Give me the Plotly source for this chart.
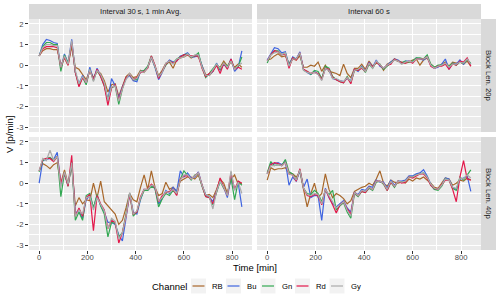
import plotly.graph_objects as go
from plotly.subplots import make_subplots

# ---------------- data ----------------
time_min = [0, 15, 30, 45, 60, 75, 90, 105, 120, 135,
            150, 165, 180, 195, 210, 225, 240, 255, 270, 285,
            300, 315, 330, 345, 360, 375, 390, 405, 420, 435,
            450, 465, 480, 495, 510, 525, 540, 555, 570, 585,
            600, 615, 630, 645, 660, 675, 690, 705, 720, 735,
            750, 765, 780, 795, 810, 825, 840]

channels = ["RB", "Bu", "Gn", "Rd", "Gy"]
interval_labels = ["Interval 30\u2009s, 1 min Avg.", "Interval 60 s"]
block_labels = ["Block Len. 20p", "Block Len. 40p"]
x_tick_vals = [0, 200, 400, 600, 800]
x_tick_text = ["0", "200", "400", "600", "800"]
y_tick_vals = [-3, -2, -1, 0, 1, 2]
y_tick_text = ["-3", "-2", "-1", "0", "1", "2"]

# Interval 30 s / Block 20p
tl_rb = [0.45, 0.7, 0.8, 0.8, 0.75, 0.75, 0.0, 0.35, 0.0, 0.9,
         -0.1, -0.2, -0.45, -0.7, -0.25, -0.6, -0.3, -0.4, -0.75, -1.3,
         -0.95, -0.9, -1.5, -1.0, -0.55, -0.4, -0.6, -0.55, -0.25, -0.35,
         -0.1, 0.35, -0.1, -0.5, -0.25, 0.1, 0.15, -0.15, 0.25, 0.35,
         0.4, 0.5, 0.35, 0.45, 0.4, -0.05, -0.45, -0.5, -0.3, 0.0,
         -0.1, 0.2, -0.05, 0.15, -0.1, 0.05, -0.1]
tl_bu = [0.45, 1.0, 1.25, 1.2, 1.1, 1.05, -0.15, 0.55, 0.1, 1.25,
         -0.35, -0.9, -0.5, -0.9, -0.1, -0.7, -0.15, -0.5, -0.95, -1.7,
         -0.65, -1.0, -1.6, -1.05, -0.65, -0.5, -0.75, -0.8, -0.3, -0.3,
         -0.1, 0.4, -0.1, -0.7, -0.35, 0.05, 0.25, 0.15, 0.2, 0.45,
         0.5, 0.6, 0.4, 0.4, 0.5, -0.05, -0.55, -0.45, -0.3, 0.1,
         -0.25, 0.05, -0.15, 0.3, -0.3, -0.1, 0.7]
tl_gn = [0.45, 0.9, 1.1, 1.1, 1.0, 1.0, -0.3, 0.5, 0.1, 1.05,
         -0.35, -1.0, -0.6, -0.95, -0.2, -0.75, -0.25, -0.55, -1.0, -1.7,
         -1.1, -1.0, -1.9, -1.15, -0.6, -0.45, -0.7, -0.7, -0.3, -0.25,
         -0.05, 0.45, -0.05, -0.6, -0.3, 0.0, 0.2, 0.1, 0.3, 0.4,
         0.5, 0.55, 0.4, 0.45, 0.6, -0.1, -0.6, -0.4, -0.2, 0.05,
         -0.2, 0.1, -0.05, 0.25, -0.15, -0.05, 0.4]
tl_rd = [0.45, 0.8, 0.9, 0.9, 0.9, 0.85, -0.1, 0.4, 0.0, 1.1,
         -0.35, -1.05, -0.6, -0.85, -0.25, -0.7, -0.2, -0.55, -1.0, -1.95,
         -1.1, -0.95, -1.7, -1.1, -0.6, -0.45, -0.7, -0.6, -0.35, -0.3,
         -0.15, 0.45, 0.0, -0.65, -0.3, 0.05, 0.2, 0.1, 0.2, 0.4,
         0.5, 0.5, 0.45, 0.45, 0.45, -0.15, -0.55, -0.4, -0.3, 0.0,
         -0.4, 0.1, -0.2, 0.3, -0.2, -0.1, -0.2]
tl_gy = [0.45, 0.85, 1.0, 1.0, 0.95, 0.95, -0.1, 0.45, 0.05, 1.2,
         -0.25, -0.9, -0.55, -0.85, -0.2, -0.8, -0.25, -0.45, -0.85, -1.7,
         -1.05, -1.0, -1.75, -1.15, -0.7, -0.4, -0.7, -0.65, -0.3, -0.35,
         -0.1, 0.4, -0.05, -0.55, -0.35, 0.1, 0.2, 0.05, 0.3, 0.35,
         0.4, 0.55, 0.4, 0.5, 0.5, -0.1, -0.5, -0.5, -0.25, 0.05,
         -0.15, 0.1, -0.1, 0.2, -0.2, 0.0, 0.1]

# Interval 60 s / Block 20p
tr_rb = [0.25, 0.3, 0.45, 0.55, 0.4, 0.45, 0.1, 0.3, 0.25, 0.45,
         -0.1, -0.1, 0.0, -0.05, 0.15, -0.3, 0.0, -0.3, -0.35, -0.4,
         -0.5, 0.05, -0.4, -0.6, -0.15, -0.15, 0.05, -0.2, 0.2, -0.05,
         0.1, 0.05, -0.25, 0.05, 0.15, 0.25, 0.2, 0.15, 0.1, 0.15,
         0.25, 0.3, 0.0, 0.25, 0.35, 0.05, -0.1, -0.05, 0.05, 0.15,
         -0.05, 0.15, 0.1, 0.15, 0.05, 0.2, -0.05]
tr_bu = [0.25, 0.55, 0.85, 0.8, 0.6, 0.65, 0.0, 0.4, 0.3, 0.65,
         -0.2, -0.35, -0.45, -0.3, -0.45, -0.65, -0.15, -0.25, -0.65, -0.7,
         -0.75, -0.8, -0.65, -0.75, -0.2, -0.3, -0.05, -0.3, 0.15, -0.1,
         0.25, -0.05, -0.15, 0.0, 0.15, 0.3, 0.25, 0.1, 0.2, 0.2,
         0.15, 0.35, 0.3, 0.25, 0.4, 0.0, -0.15, -0.1, 0.05, 0.3,
         -0.2, 0.1, 0.05, 0.25, 0.05, 0.3, 0.05]
tr_gn = [0.1, 0.5, 0.7, 0.7, 0.5, 0.6, -0.05, 0.35, 0.3, 0.55,
         -0.25, -0.3, -0.45, -0.25, -0.3, -0.65, -0.05, -0.15, -0.55, -0.7,
         -0.8, -0.85, -0.55, -0.85, -0.25, -0.25, -0.1, -0.35, 0.05, -0.15,
         0.15, 0.05, -0.2, -0.05, 0.1, 0.3, 0.2, 0.1, 0.2, 0.15,
         0.2, 0.35, 0.35, 0.3, 0.5, 0.05, -0.1, 0.0, 0.0, 0.05,
         -0.05, 0.1, 0.0, 0.15, 0.1, 0.25, 0.1]
tr_rd = [0.2, 0.5, 0.7, 0.65, 0.5, 0.55, -0.15, 0.35, 0.25, 0.6,
         -0.2, -0.3, -0.4, -0.35, -0.4, -0.7, -0.15, -0.2, -0.6, -0.7,
         -0.8, -0.85, -0.6, -0.9, -0.2, -0.25, -0.15, -0.3, 0.1, -0.1,
         0.15, 0.0, -0.15, 0.0, 0.05, 0.3, 0.2, 0.1, 0.1, 0.2,
         0.1, 0.3, 0.3, 0.3, 0.4, -0.05, -0.15, -0.05, -0.05, 0.05,
         -0.2, 0.05, 0.0, 0.2, 0.15, 0.35, -0.05]
tr_gy = [0.2, 0.5, 0.6, 0.65, 0.5, 0.6, -0.05, 0.3, 0.3, 0.6,
         -0.25, -0.35, -0.4, -0.35, -0.45, -0.75, -0.15, -0.25, -0.65, -0.65,
         -0.75, -0.8, -0.6, -0.8, -0.25, -0.2, -0.1, -0.3, 0.1, -0.15,
         0.2, 0.0, -0.15, 0.0, 0.1, 0.25, 0.2, 0.05, 0.15, 0.2,
         0.15, 0.3, 0.3, 0.3, 0.4, 0.0, -0.15, -0.05, 0.0, 0.1,
         -0.1, 0.05, 0.05, 0.15, 0.1, 0.3, 0.05]

# Interval 30 s / Block 40p
bl_rb = [0.6, 0.95, 0.85, 0.7, 0.9, 1.0, 0.0, 0.65, -0.05, 0.8,
         -1.1, -0.7, -1.0, -0.8, -0.85, 0.0, -0.7, 0.1, -0.9, -1.1,
         -1.3, -1.5, -2.0, -1.8, -1.2, -0.5, -0.8, -0.9, -0.2, 0.4,
         -0.3, 0.6, -0.2, -0.6, -0.5, 0.05, -0.3, -0.2, -0.4, 0.1,
         0.2, 0.3, 0.3, 0.2, 0.4, -0.1, -0.6, -0.55, -0.7, -0.3,
         0.2, 0.0, -0.5, 0.2, 0.4, -0.05, 0.0]
bl_bu = [0.0, 1.1, 1.15, 1.2, 1.15, 1.5, -0.1, 0.45, -0.1, 1.0,
         -1.4, -1.4, -1.7, -0.8, -0.6, -1.2, -0.6, -1.1, -1.4, -1.9,
         -1.9, -2.0, -2.5, -2.8, -1.7, -0.5, -1.4, -1.5, -0.8, -0.3,
         -0.35, -0.1, -0.25, -1.0, -0.75, -0.35, -0.5, -0.2, -0.4, 0.6,
         0.3, 0.5, 0.25, 0.3, 0.55, -0.1, -0.55, -0.65, -0.9, -0.35,
         0.1, -0.2, -0.7, 0.3, -0.3, 0.0, -1.15]
bl_gn = [0.55, 1.1, 1.2, 1.25, 1.1, 1.3, -0.65, 0.5, -0.15, 1.05,
         -1.8, -1.4, -1.8, -0.6, -0.5, -1.2, -0.55, -1.1, -1.5, -2.6,
         -1.9, -1.95, -2.6, -2.4, -1.5, -0.5, -1.6, -1.4, -0.75, -0.35,
         -0.35, -0.15, -0.25, -1.15, -0.75, -0.5, -0.6, -0.35, -0.55, 0.2,
         0.6, 0.35, 0.15, 0.4, 0.45, -0.15, -0.65, -0.7, -1.05, -0.45,
         0.1, -0.25, -0.5, 0.25, -0.8, 0.1, -0.1]
bl_rd = [0.6, 1.15, 1.2, 1.2, 1.05, 1.3, 0.0, 0.5, -0.15, 1.35,
         -1.6, -1.2, -1.6, -0.7, -0.55, -2.3, -0.6, -1.0, -1.3, -2.2,
         -1.8, -1.9, -2.9, -2.4, -1.6, -0.55, -1.5, -1.4, -0.65, -0.3,
         -0.3, -0.05, -0.2, -0.9, -0.6, -0.45, -0.4, -0.3, -0.6, 0.2,
         0.35, 0.35, 0.2, 0.35, 0.5, -0.1, -0.65, -0.7, -1.0, -0.4,
         0.25, -0.2, -0.6, 0.5, -0.3, 0.1, 0.0]
bl_gy = [0.6, 1.2, 1.1, 1.6, 1.1, 1.3, -0.2, 0.55, -0.05, 1.0,
         -1.6, -1.3, -1.5, -0.7, -0.65, -1.3, -0.7, -1.0, -1.35, -2.2,
         -1.7, -1.85, -2.7, -2.4, -1.6, -0.45, -1.5, -1.35, -0.7, -0.3,
         -0.3, -0.1, -0.15, -0.85, -0.7, -0.4, -0.45, -0.3, -0.5, 0.15,
         0.4, 0.4, 0.2, 0.35, 0.5, -0.1, -0.55, -0.65, -1.25, -0.4,
         0.1, -0.2, -0.6, 0.6, -0.35, 0.05, -0.5]

# Interval 60 s / Block 40p
br_rb = [0.15, 0.75, 0.65, 0.7, 0.7, 0.75, 0.5, 0.45, 0.3, 0.55,
         -0.3, -1.15, -0.5, 0.0, -0.7, -0.5, 0.45, -0.3, -0.7, -0.5,
         -0.6, -0.75, -1.0, -0.85, -0.4, -0.3, -0.2, -0.15, 0.0, -0.1,
         0.2, 0.6, 0.0, -0.15, 0.15, 0.05, 0.0, 0.05, 0.0, 0.2,
         0.1, 0.25, 0.2, 0.3, 0.15, 0.0, -0.2, -0.25, 0.0, 0.25,
         0.2, -0.1, 0.0, 0.15, 0.1, 0.25, 0.15]
br_bu = [0.45, 0.95, 0.95, 1.0, 0.9, 1.05, -0.1, 0.3, 0.1, 0.6,
         -0.2, 0.2, -0.7, -0.6, -0.6, -1.8, -0.25, -0.7, -1.0, -1.15,
         -1.0, -0.85, -1.2, -1.4, -0.45, -0.55, -0.3, -0.35, -0.15, -0.2,
         0.15, 0.05, 0.05, -0.25, 0.15, -0.1, 0.1, 0.1, 0.15, 0.35,
         0.35, 0.45, 0.5, 0.65, 0.35, -0.05, -0.3, -0.3, -0.1, 0.25,
         0.2, -0.2, -0.3, 0.2, 0.25, 0.35, -0.4]
br_gn = [0.5, 1.05, 0.85, 0.9, 0.85, 1.15, 0.55, 0.45, 0.15, 0.65,
         -0.25, -0.5, -0.55, -0.35, -0.5, -0.9, -0.35, -0.55, -0.35, -1.3,
         -1.1, -0.95, -1.4, -1.7, -0.5, -0.65, -0.4, -0.45, -0.25, -0.35,
         0.05, 0.1, -0.05, -0.35, 0.05, -0.2, 0.1, 0.05, 0.1, 0.3,
         0.3, 0.4, 0.45, 0.5, 0.3, -0.1, -0.3, -0.35, -0.15, 0.2,
         0.15, -0.25, -0.35, 0.3, 0.15, 0.4, 0.65]
br_rd = [0.45, 0.9, 1.0, 0.95, 0.85, 1.0, 0.45, 0.4, 0.1, 0.7,
         -0.25, -0.6, -0.65, -0.55, -0.6, -1.05, -0.3, -0.65, -1.05, -1.45,
         -1.05, -0.9, -1.25, -1.5, -0.45, -0.6, -0.4, -0.45, -0.2, -0.3,
         0.1, 0.1, 0.0, -0.35, 0.05, -0.15, 0.1, 0.0, 0.05, 0.3,
         0.25, 0.35, 0.45, 0.45, 0.25, -0.1, -0.25, -0.3, -0.1, 0.15,
         0.15, -0.3, -0.9, 0.3, 1.1, 0.2, 0.15]
br_gy = [0.45, 0.85, 0.85, 0.9, 0.85, 1.0, 0.45, 0.4, 0.15, 0.65,
         -0.25, -0.55, -0.6, -0.5, -0.55, -1.0, -0.3, -0.6, -0.95, -1.2,
         -1.05, -0.9, -1.3, -1.6, -0.45, -0.6, -0.35, -0.4, -0.2, -0.3,
         0.1, 0.1, 0.0, -0.3, 0.1, -0.15, 0.1, 0.05, 0.1, 0.3,
         0.3, 0.4, 0.45, 0.5, 0.3, -0.05, -0.25, -0.3, -0.1, 0.2,
         0.15, -0.2, -0.25, 0.25, 0.2, 0.4, 0.25]

panels = {
    (1, 1): [tl_rb, tl_bu, tl_gn, tl_rd, tl_gy],
    (1, 2): [tr_rb, tr_bu, tr_gn, tr_rd, tr_gy],
    (2, 1): [bl_rb, bl_bu, bl_gn, bl_rd, bl_gy],
    (2, 2): [br_rb, br_bu, br_gn, br_rd, br_gy],
}

# ---------------- style ----------------
colors = {"RB": "#A8672A", "Bu": "#3F64E0", "Gn": "#32A852", "Rd": "#E3174A", "Gy": "#AAAAAA"}
W, H = 500, 307
FONT = "Liberation Sans, Arial, sans-serif"
col_px = {1: (29, 252), 2: (257, 481)}
row_px = {1: (19, 132), 2: (137, 250)}


def px_x(v):
    return v / W


def px_y(v):
    return 1 - v / H


fig = make_subplots(rows=2, cols=2, shared_xaxes=True, shared_yaxes=True,
                    horizontal_spacing=0.01, vertical_spacing=0.015)

for (r, c), series in panels.items():
    for name, ys in zip(channels, series):
        fig.add_trace(go.Scatter(x=time_min, y=ys, mode="lines", name=name,
                                 line=dict(color=colors[name], width=1.2),
                                 showlegend=False, hoverinfo="skip"), row=r, col=c)

for r in (1, 2):
    for c in (1, 2):
        x0, x1 = col_px[c]
        y0, y1 = row_px[r]
        fig.update_xaxes(domain=[px_x(x0), px_x(x1)], range=[-42, 882],
                         tickvals=x_tick_vals, ticktext=x_tick_text,
                         showgrid=True, gridcolor="white", gridwidth=1.1,
                         zeroline=False, showline=False,
                         minor=dict(tickvals=[100, 300, 500, 700], showgrid=True,
                                    gridcolor="white", gridwidth=0.55, ticks=""),
                         ticks="outside" if r == 2 else "", ticklen=3, tickwidth=1,
                         tickcolor="#333333", showticklabels=(r == 2),
                         ticklabelstandoff=-3,
                         tickfont=dict(family=FONT, size=7.7, color="#4D4D4D"),
                         row=r, col=c)
        fig.update_yaxes(domain=[px_y(y1), px_y(y0)], range=[-3.24, 2.24],
                         tickvals=y_tick_vals, ticktext=y_tick_text,
                         showgrid=True, gridcolor="white", gridwidth=1.1,
                         zeroline=False, showline=False,
                         minor=dict(tickvals=[-2.5, -1.5, -0.5, 0.5, 1.5], showgrid=True,
                                    gridcolor="white", gridwidth=0.55, ticks=""),
                         ticks="outside" if c == 1 else "", ticklen=3, tickwidth=1,
                         tickcolor="#333333", showticklabels=(c == 1),
                         tickfont=dict(family=FONT, size=7.7, color="#4D4D4D"),
                         row=r, col=c)

shapes = []
annotations = []
STRIP = "#D9D9D9"
# top strips
for c, lab in zip((1, 2), interval_labels):
    x0, x1 = col_px[c]
    shapes.append(dict(type="rect", xref="paper", yref="paper", x0=px_x(x0), x1=px_x(x1),
                       y0=px_y(19), y1=px_y(4), fillcolor=STRIP, line=dict(width=0)))
    annotations.append(dict(text=lab, xref="paper", yref="paper", x=px_x((x0 + x1) / 2),
                            y=px_y(11.5), showarrow=False, xanchor="center", yanchor="middle",
                            font=dict(family=FONT, size=7.7, color="#1A1A1A")))
# right strips
for r, lab in zip((1, 2), block_labels):
    y0, y1 = row_px[r]
    shapes.append(dict(type="rect", xref="paper", yref="paper", x0=px_x(481), x1=px_x(496),
                       y0=px_y(y1), y1=px_y(y0), fillcolor=STRIP, line=dict(width=0)))
    annotations.append(dict(text=lab, xref="paper", yref="paper", x=px_x(488.5),
                            y=px_y((y0 + y1) / 2), showarrow=False, textangle=90,
                            xanchor="center", yanchor="middle",
                            font=dict(family=FONT, size=7.7, color="#1A1A1A")))

# axis titles
annotations.append(dict(text="Time [min]", xref="paper", yref="paper", x=px_x(255), y=px_y(267),
                        showarrow=False, xanchor="center", yanchor="middle",
                        font=dict(family=FONT, size=9.5, color="black")))
annotations.append(dict(text="V [p/min]", xref="paper", yref="paper", x=px_x(9.5), y=px_y(134.5),
                        showarrow=False, textangle=-90, xanchor="center", yanchor="middle",
                        font=dict(family=FONT, size=9.5, color="black")))

# legend (drawn)
LEG_Y = 286
annotations.append(dict(text="Channel", xref="paper", yref="paper", x=px_x(150), y=px_y(LEG_Y),
                        showarrow=False, xanchor="left", yanchor="middle",
                        font=dict(family=FONT, size=9.5, color="black")))
key_x = [191, 226, 260.5, 295, 329.5]
for kx, name in zip(key_x, channels):
    shapes.append(dict(type="rect", xref="paper", yref="paper", x0=px_x(kx), x1=px_x(kx + 15),
                       y0=px_y(LEG_Y + 7.5), y1=px_y(LEG_Y - 7.5), fillcolor="#F2F2F2",
                       line=dict(width=0)))
    shapes.append(dict(type="line", xref="paper", yref="paper", x0=px_x(kx + 1.5), x1=px_x(kx + 13.5),
                       y0=px_y(LEG_Y), y1=px_y(LEG_Y), line=dict(color=colors[name], width=1.2)))
    annotations.append(dict(text=name, xref="paper", yref="paper", x=px_x(kx + 19), y=px_y(LEG_Y),
                            showarrow=False, xanchor="left", yanchor="middle",
                            font=dict(family=FONT, size=7.7, color="black")))

fig.update_layout(width=W, height=H, autosize=False,
                  margin=dict(l=0, r=0, t=0, b=0),
                  paper_bgcolor="white", plot_bgcolor="#EBEBEB",
                  showlegend=False, shapes=shapes, annotations=annotations,
                  font=dict(family=FONT), hovermode=False)

fig.write_html("out.html", config={"displayModeBar": False},
               post_script="document.body.style.margin='0';document.body.style.padding='0';")
